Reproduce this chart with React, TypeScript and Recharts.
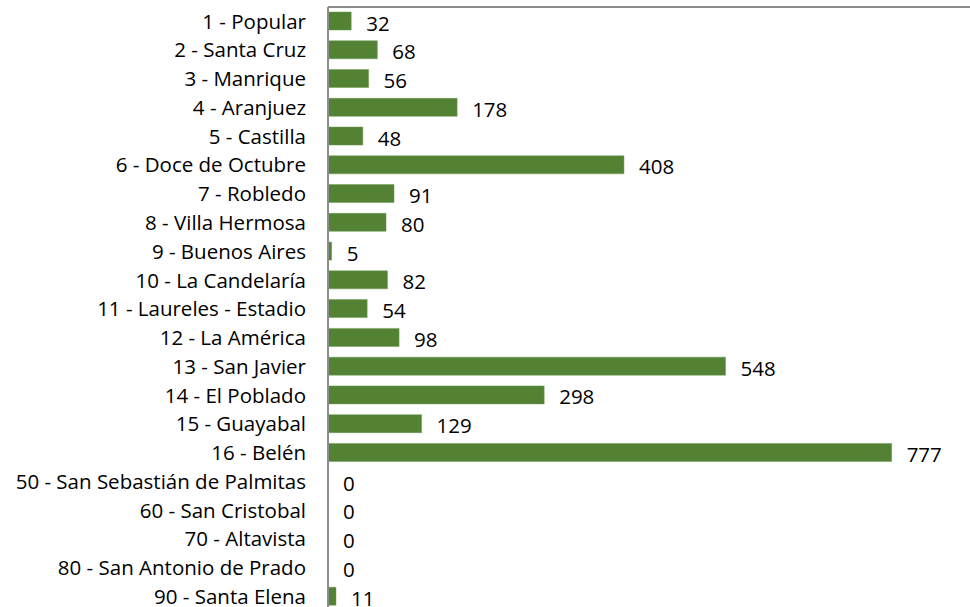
import React from "react";
import { BarChart, Bar, XAxis, YAxis, LabelList, Rectangle } from "recharts";

const categories = [
  "1 - Popular",
  "2 - Santa Cruz",
  "3 - Manrique",
  "4 - Aranjuez",
  "5 - Castilla",
  "6 - Doce de Octubre",
  "7 - Robledo",
  "8 - Villa Hermosa",
  "9 - Buenos Aires",
  "10 - La Candelaría",
  "11 - Laureles - Estadio",
  "12 - La América",
  "13 - San Javier",
  "14 - El Poblado",
  "15 - Guayabal",
  "16 - Belén",
  "50 - San Sebastián de Palmitas",
  "60 - San Cristobal",
  "70 - Altavista",
  "80 - San Antonio de Prado",
  "90 - Santa Elena",
];

const values = [32, 68, 56, 178, 48, 408, 91, 80, 5, 82, 54, 98, 548, 298, 129, 777, 0, 0, 0, 0, 11];

const data = categories.map((name, i) => ({ name, value: values[i] }));

const FONT = "'Open Sans', 'Noto Sans', sans-serif";
const FS = 20.5;

const ValueLabel = (props: any) => {
  const { x, y, width, height, value } = props;
  if (x == null || y == null) return null;
  return (
    <text
      x={Number(x) + Number(width || 0) + 15}
      y={Number(y) + Number(height || 0) / 2 + 1.5}
      fill="#000"
      fontSize={FS}
      fontFamily={FONT}
      textAnchor="start"
      dominantBaseline="central"
    >
      {String(value)}
    </text>
  );
};

const BarShape = (props: any) => {
  const v = props?.payload?.value;
  if (!v) return <g />;
  return <Rectangle {...props} />;
};

export default function App() {
  return (
    <div
      style={{
        position: "fixed",
        left: 0,
        top: 0,
        width: 970,
        height: 607,
        overflow: "hidden",
        background: "#fff",
      }}
    >
      <BarChart
        width={970}
        height={611}
        data={data}
        layout="vertical"
        margin={{ top: 6, right: 0, bottom: 0, left: 0 }}
        barSize={18}
      >
        <XAxis
          type="number"
          orientation="top"
          domain={[0, 885]}
          allowDataOverflow
          height={1}
          tick={false}
          tickLine={false}
          axisLine={{ stroke: "#8c8c8c", strokeWidth: 2 }}
        />
        <YAxis
          type="category"
          dataKey="name"
          width={328}
          tickLine={false}
          tickSize={0}
          tickMargin={22}
          interval={0}
          axisLine={{ stroke: "#8c8c8c", strokeWidth: 2 }}
          tick={{ fill: "#000", fontSize: FS, fontFamily: FONT }}
        />
        <Bar
          dataKey="value"
          fill="#548235"
          stroke="#6e9a4f"
          strokeWidth={0.5}
          minPointSize={0.01}
          shape={BarShape}
          isAnimationActive={false}
        >
          <LabelList dataKey="value" content={ValueLabel} />
        </Bar>
      </BarChart>
    </div>
  );
}
